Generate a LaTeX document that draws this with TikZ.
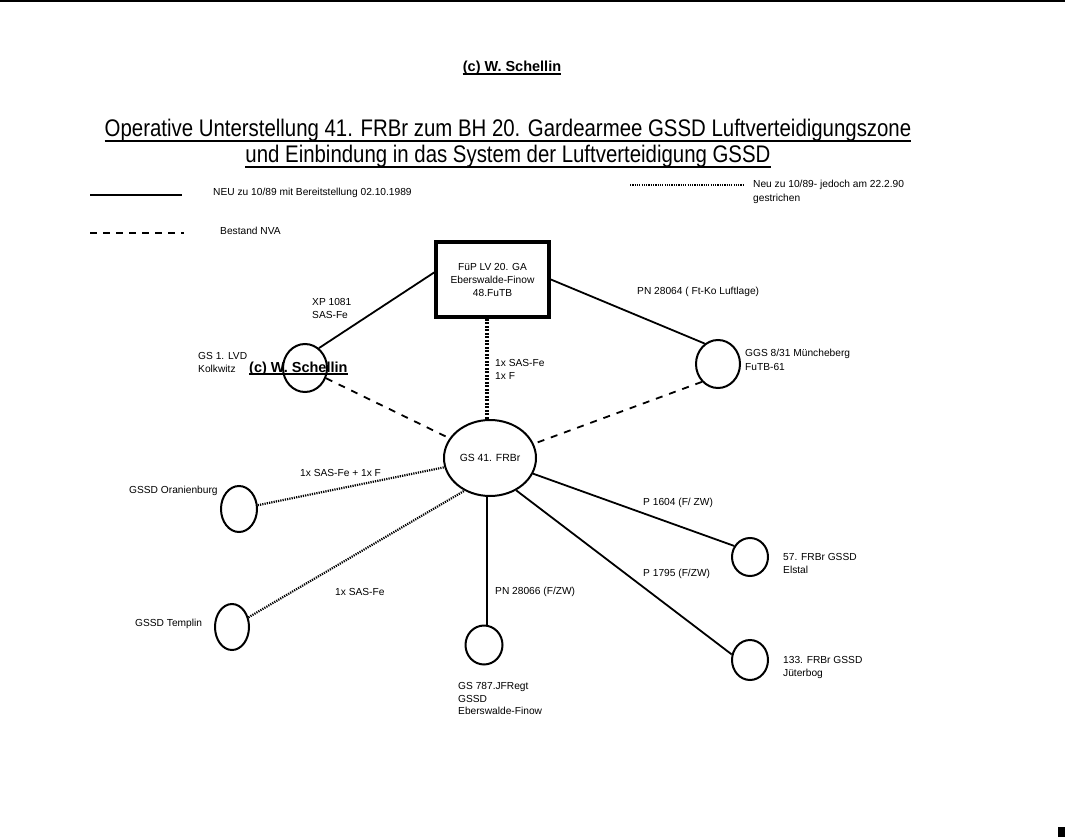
\documentclass[tikz,border=0pt]{standalone}
\usepackage{fontspec}
\setmainfont{Liberation Sans}
\newfontfamily\titlefont[FakeStretch=0.85]{Liberation Sans}
\newfontfamily\lblfont{Liberation Sans}
\usetikzlibrary{shapes.geometric}
\begin{document}
\begin{tikzpicture}[x=1pt,y=-1pt,
  lbl/.style={font=\lblfont\fontsize{10.2}{13.5}\selectfont, inner sep=0pt, align=left},
  ell/.style={draw, ellipse, line width=2pt, inner sep=0pt},
  fopbox/.style={draw, line width=3.8pt, minimum width=113pt, minimum height=75pt, inner sep=0pt, align=center, font=\lblfont\fontsize{10.2}{13}\selectfont},
  solidc/.style={line width=1.8pt},
  dashc/.style={line width=1.8pt, dash pattern=on 7pt off 7pt},
  dotc/.style={line width=2.2pt, dash pattern=on 1.2pt off 1.1pt},
  dotv/.style={line width=3.2pt, dash pattern=on 2pt off 1.5pt},
  cpr/.style={font=\bfseries\fontsize{14.5}{16}\selectfont, inner sep=0pt},
  ttl/.style={font=\titlefont\fontsize{24}{28}\selectfont, inner sep=0pt},
  ul/.style={line width=1.6pt}]
\useasboundingbox (0,0) rectangle (1065,837);
\fill[white] (0,0) rectangle (1065,837);
% scan artefacts
\fill[black] (0,0) rectangle (1065,2.5);
\fill[black] (1058,827) rectangle (1065,837);

% copyright
\node[cpr, anchor=base] (c1) at (512,72) {(c) W. Schellin};
\draw[ul] ([yshift=-1.8pt]c1.base west) -- ([yshift=-1.8pt]c1.base east);

% title
\node[ttl, anchor=base] (t1) at (508,137) {Operative Unterstellung 41. FRBr zum BH 20. Gardearmee GSSD Luftverteidigungszone};
\draw[ul, line width=1.9pt] ([yshift=-4pt]t1.base west) -- ([yshift=-4pt]t1.base east);
\node[ttl, anchor=base] (t2) at (508,163) {und Einbindung in das System der Luftverteidigung GSSD};
\draw[ul, line width=1.9pt] ([yshift=-4pt]t2.base west) -- ([yshift=-4pt]t2.base east);

% legend
\coordinate (l1a) at (90,195); \coordinate (l1b) at (182,195);
\draw[solidc] (l1a) -- (l1b);
\node[lbl, anchor=west] (lt1) at (213,193) {NEU zu 10/89 mit Bereitstellung 02.10.1989};
\coordinate (l2a) at (90,233); \coordinate (l2b) at (184,233);
\draw[dashc, dash pattern=on 7pt off 6pt] (l2a) -- (l2b);
\node[lbl, anchor=west] (lt2) at (220,231) {Bestand NVA};
\coordinate (l3a) at (630,185); \coordinate (l3b) at (744,185);
\draw[dotc, line width=1.5pt] (l3a) -- (l3b);
\node[lbl, anchor=north west] (lt3) at (753,180) {Neu zu 10/89- jedoch am 22.2.90\\gestrichen};

% nodes
\node[fopbox] (fop) at (492.5,279.5) {FüP LV 20. GA\\Eberswalde-Finow\\48.FuTB};
\node[ell, minimum width=44pt, minimum height=48pt] (gs1) at (305,368) {};
\node[ell, minimum width=44pt, minimum height=48pt] (ggs) at (718,364) {};
\node[ell, minimum width=92pt, minimum height=76pt, font=\lblfont\fontsize{10.4}{12}\selectfont] (gs41) at (490,458) {GS 41. FRBr};
\node[ell, minimum width=36pt, minimum height=46pt] (oran) at (239,509) {};
\node[ell, minimum width=34pt, minimum height=46pt] (templ) at (232,627) {};
\node[ell, minimum width=36pt, minimum height=38pt] (f57) at (750,557) {};
\node[ell, minimum width=36pt, minimum height=40pt] (f133) at (750,660) {};
\node[ell, minimum width=37pt, minimum height=39pt] (gs787) at (484,645) {};

% connectors
\draw[solidc] ([yshift=7pt]fop.west) -- (gs1.55);
\draw[solidc] (fop.east) -- (ggs.123);
\draw[dotv] ([xshift=-5.5pt]fop.south) -- ([xshift=-3pt]gs41.north);
\draw[dashc] (gs1) -- (gs41);
\draw[dashc] (ggs.228) -- (gs41.18);
\draw[dotc] (oran) -- (gs41);
\draw[dotc] (templ) -- (gs41.232);
\draw[solidc] (gs41.-20) -- (f57.145);
\draw[solidc] (gs41.-51) -- (f133.163);
\draw[solidc] ([xshift=-3pt]gs41.south) -- ([xshift=3pt]gs787.north);

% labels
\node[lbl, anchor=north west] (xp) at (312,298) {XP 1081\\SAS-Fe};
\node[lbl, anchor=north west] (gs1t) at (198,352) {GS 1. LVD\\Kolkwitz};
\node[cpr, anchor=base west] (c2) at (249,372) {(c) W. Schellin};
\draw[ul] ([yshift=-1.8pt]c2.base west) -- ([yshift=-1.8pt]c2.base east);
\node[lbl, anchor=north west, font=\lblfont\fontsize{10.2}{13}\selectfont] (sf1) at (495,359) {1x SAS-Fe\\1x F};
\node[lbl, anchor=west] (pn64) at (637,292) {PN 28064 ( Ft-Ko Luftlage)};
\node[lbl, anchor=north west] (ggst) at (745,349) {GGS 8/31 Müncheberg\\FuTB-61};
\node[lbl, anchor=west] (sf2) at (300,473) {1x SAS-Fe + 1x F};
\node[lbl, anchor=west] (orant) at (129,491) {GSSD Oranienburg};
\node[lbl, anchor=west] (sf3) at (335,592) {1x SAS-Fe};
\node[lbl, anchor=west] (templt) at (135,624) {GSSD Templin};
\node[lbl, anchor=west] (p1604) at (643,503) {P 1604 (F/ ZW)};
\node[lbl, anchor=west] (p1795) at (643,574) {P 1795 (F/ZW)};
\node[lbl, anchor=north west] (f57t) at (783,553) {57. FRBr GSSD\\Elstal};
\node[lbl, anchor=north west] (f133t) at (783,656) {133. FRBr GSSD\\Jüterbog};
\node[lbl, anchor=west] (pn66) at (495,592) {PN 28066 (F/ZW)};
\node[lbl, anchor=north west, font=\lblfont\fontsize{10.2}{12.8}\selectfont] (gs787t) at (458,682) {GS 787.JFRegt\\GSSD\\Eberswalde-Finow};
\end{tikzpicture}
\end{document}
